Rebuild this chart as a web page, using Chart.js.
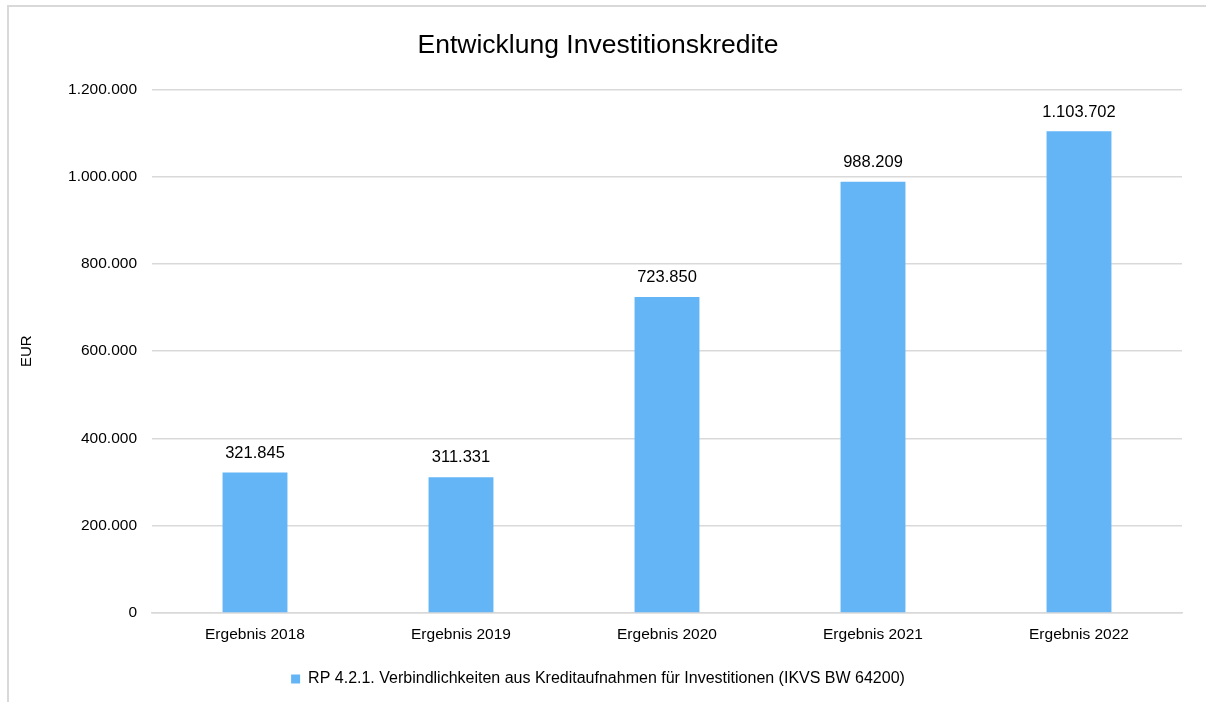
<!DOCTYPE html>
<html>
<head>
<meta charset="utf-8">
<script src="https://cdn.jsdelivr.net/npm/chart.js@4/dist/chart.umd.min.js"></script>
<style>
    html, body { margin: 0; padding: 0; background: #fff; }
    #wrap { position: relative; width: 1206px; height: 702px; }
    #frame { position: absolute; left: 7px; top: 5px; right: -10px; bottom: -10px;
             border-left: 2px solid #d9d9d9; border-top: 2px solid #d9d9d9; pointer-events: none; }
    canvas { position: absolute; left: 0; top: 0; }
</style>
</head>
<body>
<div id="wrap">
    <canvas id="investChart" width="1206" height="702"></canvas>
    <div id="frame"></div>
</div>
<script>
const categories = ['Ergebnis 2018', 'Ergebnis 2019', 'Ergebnis 2020', 'Ergebnis 2021', 'Ergebnis 2022'];
const kreditValues = [321845, 311331, 723850, 988209, 1103702];
const seriesLabel = 'RP 4.2.1. Verbindlichkeiten aus Kreditaufnahmen für Investitionen (IKVS BW 64200)';
const chartTitle = 'Entwicklung Investitionskredite';

const fmt = v => Number(v).toLocaleString('de-DE');
const fontFamily = '"Liberation Sans", Arial, sans-serif';

// draws the value above each bar
const valueLabels = {
    id: 'valueLabels',
    afterDatasetsDraw(chart) {
        const ctx = chart.ctx;
        ctx.save();
        ctx.font = '16.5px ' + fontFamily;
        ctx.fillStyle = '#000';
        ctx.textAlign = 'center';
        ctx.textBaseline = 'bottom';
        chart.getDatasetMeta(0).data.forEach((bar, i) => {
            ctx.fillText(fmt(kreditValues[i]), bar.x, bar.y - 11);
        });
        ctx.restore();
    }
};

const ctx = document.getElementById('investChart').getContext('2d');
new Chart(ctx, {
    type: 'bar',
    data: {
        labels: categories,
        datasets: [{
            label: seriesLabel,
            data: kreditValues,
            backgroundColor: '#64B5F6',
            categoryPercentage: 1,
            barPercentage: 0.315
        }]
    },
    options: {
        responsive: false,
        animation: false,
        layout: { padding: { left: 14, right: 24, top: 0, bottom: 5 } },
        plugins: {
            title: {
                display: true,
                text: chartTitle,
                color: '#000',
                font: { family: fontFamily, size: 26.5, weight: 'normal' },
                padding: { top: 30, bottom: 27.5 }
            },
            legend: {
                position: 'bottom',
                labels: {
                    color: '#000',
                    font: { family: fontFamily, size: 16 },
                    boxWidth: 9,
                    boxHeight: 9,
                    padding: 10
                }
            },
            tooltip: { enabled: false }
        },
        scales: {
            x: {
                grid: { display: false, drawTicks: false },
                border: { color: '#d9d9d9', width: 1.5 },
                ticks: { color: '#000', font: { family: fontFamily, size: 15.5 }, padding: 12 },
                afterFit(scale) { scale.height = 48; }
            },
            y: {
                min: 0,
                max: 1200000,
                ticks: {
                    stepSize: 200000,
                    color: '#000',
                    font: { family: fontFamily, size: 15.5 },
                    padding: 15,
                    callback: v => fmt(v)
                },
                grid: { color: '#d9d9d9', lineWidth: 1.5, drawTicks: false },
                border: { display: false },
                title: {
                    display: true,
                    text: 'EUR',
                    color: '#000',
                    font: { family: fontFamily, size: 15 }
                },
                afterFit(scale) { scale.width = 138; }
            }
        }
    },
    plugins: [valueLabels]
});
</script>
</body>
</html>
